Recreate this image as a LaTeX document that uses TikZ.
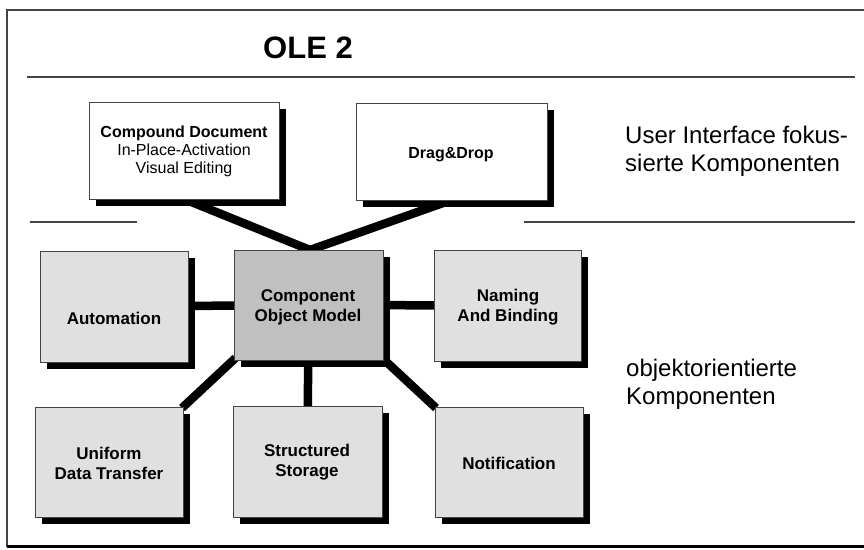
\documentclass[tikz,border=0pt]{standalone}
\usepackage{fontspec}
\setmainfont{Liberation Sans}
\usetikzlibrary{shadows}
\definecolor{boxlight}{HTML}{E0E0E0}
\definecolor{boxdark}{HTML}{C0C0C0}
\definecolor{rulegray}{HTML}{444444}
\begin{document}
\begin{tikzpicture}[x=1pt,y=-1pt,
  comp/.style={rectangle,draw=rulegray,line width=0.9pt,inner sep=0pt,
    drop shadow={shadow xshift=7pt,shadow yshift=-7pt,fill=black,opacity=1}},
  wbox/.style={comp,fill=white,minimum width=190pt,minimum height=97pt},
  gbox/.style={comp,fill=boxlight,minimum width=148pt,minimum height=110pt},
  conn/.style={line width=8.5pt,black},
  sep/.style={rulegray,line width=1.1pt},
  lbl/.style={inner sep=0pt,align=center,font=\fontsize{16}{18}\selectfont},
  blbl/.style={inner sep=0pt,align=center,font=\fontsize{17}{20}\selectfont\bfseries},
  side/.style={inner sep=0pt,align=left,anchor=west,font=\fontsize{24}{28}\selectfont}]
\useasboundingbox (0,0) rectangle (864,549);
\fill[white] (0,0) rectangle (864,549);
% frame
\coordinate (fTL) at (7,10);
\coordinate (fTR) at (864,10);
\coordinate (fBL) at (7,546.5);
\coordinate (fBR) at (864,546.5);
\draw[rulegray,line width=1.2pt] (fTR) -- (fTL) -- (fBL);
\draw[black,line width=3pt] (fBL) -- (fBR);
% separators
\coordinate (s1a) at (27,77); \coordinate (s1b) at (855,77);
\coordinate (s2a) at (30,222); \coordinate (s2b) at (137,222);
\coordinate (s3a) at (524,222); \coordinate (s3b) at (855,222);
\draw[sep] (s1a) -- (s1b);
\draw[sep] (s2a) -- (s2b);
\draw[sep] (s3a) -- (s3b);
% title
\node[inner sep=0pt,font=\fontsize{31}{36}\selectfont\bfseries] (title) at (308,48) {OLE 2};
% boxes (positions only)
\coordinate (pcd) at (184,150.5);
\coordinate (pdd) at (451.5,151.5);
\coordinate (pau) at (114,306.5);
\coordinate (pcom) at (308.5,305);
\coordinate (pnb) at (507.5,305.5);
\coordinate (pudt) at (109,462);
\coordinate (pss) at (307.5,461.5);
\coordinate (pno) at (509,462);
% connectors first (behind boxes)
\path (pcd) ++(0,48.5) coordinate (cdS);
\path (pdd) ++(0,48.5) coordinate (ddS);
\path (pcom) ++(1.5,-55) coordinate (comN);
\draw[conn] (cdS) -- (comN);
\draw[conn] (ddS) -- (comN);
\draw[conn] (pau) -- (pcom);
\draw[conn] (pcom) -- (pnb);
\draw[conn] (pcom) -- (pss);
\path (pcom) ++(-73,53) coordinate (comSW);
\path (pcom) ++(78,57) coordinate (comSE);
\path (pudt) ++(73,-54) coordinate (udtNE);
\path (pno) ++(-73,-54) coordinate (noNW);
\draw[conn] (comSW) -- (udtNE);
\draw[conn] (comSE) -- (noNW);
% boxes
\node[wbox] (cd) at (pcd) {};
\node[wbox,minimum width=191pt] (dd) at (pdd) {};
\node[gbox,minimum height=111pt] (au) at (pau) {};
\node[gbox,fill=boxdark,minimum width=149pt] (com) at (pcom) {};
\node[gbox,minimum width=147pt,minimum height=111pt] (nb) at (pnb) {};
\node[gbox] (udt) at (pudt) {};
\node[gbox,minimum width=149pt,minimum height=111pt] (ss) at (pss) {};
\node[gbox] (no) at (pno) {};
% labels
\node[lbl] (cdt) at (184,151) {\textbf{Compound Document}\\In-Place-Activation\\Visual Editing};
\node[lbl,font=\fontsize{16}{18}\selectfont\bfseries] (ddt) at (451,155) {Drag\&Drop};
\node[blbl] (aut) at (114,318) {Automation};
\node[blbl] (comt) at (308,307.5) {Component\\Object Model};
\node[blbl] (nbt) at (508,307) {Naming\\And Binding};
\node[blbl] (udtt) at (109,463) {Uniform\\Data Transfer};
\node[blbl] (sst) at (307,462) {Structured\\Storage};
\node[blbl] (not) at (509,463) {Notification};
% side texts
\node[side] (ui) at (625,151) {User Interface fokus-\\sierte Komponenten};
\node[side] (oo) at (626,384) {objektorientierte\\Komponenten};
\end{tikzpicture}
\end{document}
